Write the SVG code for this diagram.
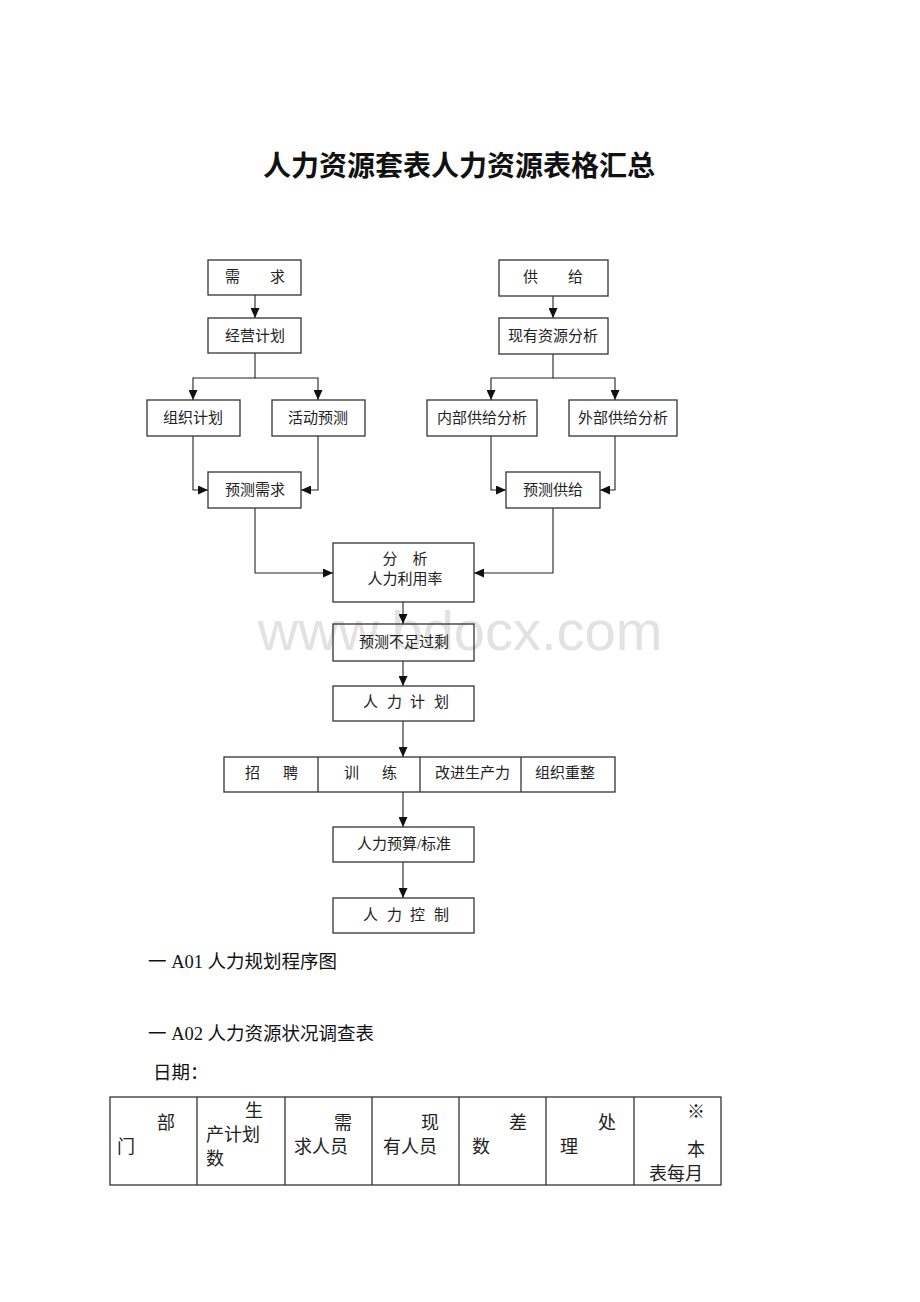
<svg xmlns="http://www.w3.org/2000/svg" width="920" height="1302" viewBox="0 0 920 1302">
<style>
.bg{fill:#fff}
.box{fill:none;stroke:#333;stroke-width:1.3}
.t{font-family:"Liberation Serif","Noto Sans CJK SC",serif;font-size:15px;fill:#222}
.c{text-anchor:middle}
.ln{fill:none;stroke:#222;stroke-width:1.1}
.ar{marker-end:url(#ah)}
.title{font-family:"Liberation Serif","Noto Sans CJK SC",serif;font-size:28px;font-weight:bold;fill:#111;text-anchor:middle}
.cap{font-family:"Liberation Serif","Noto Sans CJK SC",serif;font-size:18.5px;fill:#111}
.cell{font-family:"Liberation Serif","Noto Sans CJK SC",serif;font-size:18px;fill:#222}
.wm{font-family:"Liberation Sans",Arial,sans-serif;font-size:56px;fill:#e2e2e2;text-anchor:middle}
.tb{fill:none;stroke:#333;stroke-width:1.3}
</style>
<defs>
<marker id="ah" markerUnits="userSpaceOnUse" markerWidth="10" markerHeight="9" refX="10" refY="4.5" orient="auto">
<path d="M0,0 L10,4.5 L0,9 z" fill="#111"/>
</marker>
</defs>
<rect class="bg" x="0" y="0" width="920" height="1302"/>
<text class="title" x="459" y="176">人力资源套表人力资源表格汇总</text>
<text class="wm" x="460" y="650">www.bdocx.com</text>

<g id="connectors">
<path class="ln ar" d="M255,295 V318"/>
<path class="ln ar" d="M255,353 V378 H193 V400"/>
<path class="ln ar" d="M255,378 H318 V400"/>
<path class="ln ar" d="M193,436 V490 H208"/>
<path class="ln ar" d="M318,436 V490 H301"/>
<path class="ln ar" d="M255,508 V573 H333"/>
<path class="ln ar" d="M553,296 V318"/>
<path class="ln ar" d="M553,354 V378 H491 V400"/>
<path class="ln ar" d="M553,378 H615 V400"/>
<path class="ln ar" d="M491,436 V490 H506"/>
<path class="ln ar" d="M615,436 V490 H600"/>
<path class="ln ar" d="M553,508 V573 H474"/>
<path class="ln ar" d="M403,602 V624"/>
<path class="ln ar" d="M403,661 V686"/>
<path class="ln ar" d="M403,721 V757"/>
<path class="ln ar" d="M403,792 V827"/>
<path class="ln ar" d="M403,862 V898"/>
</g>

<g id="n-xuqiu"><rect class="box" x="208" y="260" width="93" height="35"/><text class="t c" x="255" y="282">需　　求</text></g>
<g id="n-jingying"><rect class="box" x="208" y="318" width="93" height="35"/><text class="t c" x="255" y="341">经营计划</text></g>
<g id="n-zuzhi"><rect class="box" x="147" y="400" width="93" height="36"/><text class="t c" x="193" y="423">组织计划</text></g>
<g id="n-huodong"><rect class="box" x="272" y="400" width="93" height="36"/><text class="t c" x="318" y="423">活动预测</text></g>
<g id="n-yucexuqiu"><rect class="box" x="208" y="472" width="93" height="36"/><text class="t c" x="255" y="495">预测需求</text></g>

<g id="n-gongji"><rect class="box" x="499" y="260" width="109" height="36"/><text class="t c" x="553" y="282">供　　给</text></g>
<g id="n-xianyou"><rect class="box" x="499" y="318" width="109" height="36"/><text class="t c" x="553" y="341">现有资源分析</text></g>
<g id="n-neibu"><rect class="box" x="427" y="400" width="110" height="36"/><text class="t c" x="482" y="423">内部供给分析</text></g>
<g id="n-waibu"><rect class="box" x="569" y="400" width="108" height="36"/><text class="t c" x="623" y="423">外部供给分析</text></g>
<g id="n-yucegongji"><rect class="box" x="506" y="472" width="94" height="36"/><text class="t c" x="553" y="495">预测供给</text></g>

<g id="n-fenxi"><rect class="box" x="333" y="543" width="141" height="59"/><text class="t c" x="405" y="564">分　析</text><text class="t c" x="405" y="584">人力利用率</text></g>
<g id="n-buzu"><rect class="box" x="333" y="624" width="141" height="37"/><text class="t c" x="404" y="647">预测不足过剩</text></g>
<g id="n-jihua"><rect class="box" x="333" y="686" width="141" height="35"/><text class="t" x="363 387 410 434" y="707">人力计划</text></g>
<g id="n-row"><rect class="box" x="224" y="757" width="391" height="35"/>
<line class="box" x1="318" y1="757" x2="318" y2="792"/><line class="box" x1="420" y1="757" x2="420" y2="792"/><line class="box" x1="521" y1="757" x2="521" y2="792"/>
<text class="t" x="245 283" y="778">招聘</text>
<text class="t" x="344 382" y="778">训练</text>
<text class="t" x="435" y="778">改进生产力</text>
<text class="t" x="535" y="778">组织重整</text>
</g>
<g id="n-yusuan"><rect class="box" x="333" y="827" width="141" height="35"/><text class="t c" x="404" y="849">人力预算/标准</text></g>
<g id="n-kongzhi"><rect class="box" x="333" y="898" width="141" height="35"/><text class="t" x="363 387 410 434" y="920">人力控制</text></g>

<text class="cap" x="148" y="968">一 A01 人力规划程序图</text>
<text class="cap" x="148" y="1040">一 A02 人力资源状况调查表</text>
<text class="cap" x="153" y="1079">日期：</text>

<g id="table">
<rect class="tb" x="110" y="1097" width="611" height="88"/>
<line class="tb" x1="197" y1="1097" x2="197" y2="1185"/>
<line class="tb" x1="285" y1="1097" x2="285" y2="1185"/>
<line class="tb" x1="372" y1="1097" x2="372" y2="1185"/>
<line class="tb" x1="459" y1="1097" x2="459" y2="1185"/>
<line class="tb" x1="546" y1="1097" x2="546" y2="1185"/>
<line class="tb" x1="634" y1="1097" x2="634" y2="1185"/>
<text class="cell" x="157" y="1129">部</text><text class="cell" x="117" y="1153">门</text>
<text class="cell" x="245" y="1117">生</text><text class="cell" x="206" y="1141">产计划</text><text class="cell" x="206" y="1165">数</text>
<text class="cell" x="334" y="1129">需</text><text class="cell" x="294" y="1153">求人员</text>
<text class="cell" x="421" y="1129">现</text><text class="cell" x="383" y="1153">有人员</text>
<text class="cell" x="509" y="1129">差</text><text class="cell" x="472" y="1153">数</text>
<text class="cell" x="598" y="1129">处</text><text class="cell" x="560" y="1153">理</text>
<text class="cell" x="687" y="1118">※</text><text class="cell" x="687" y="1156">本</text><text class="cell" x="649" y="1180">表每月</text>
</g>
</svg>
